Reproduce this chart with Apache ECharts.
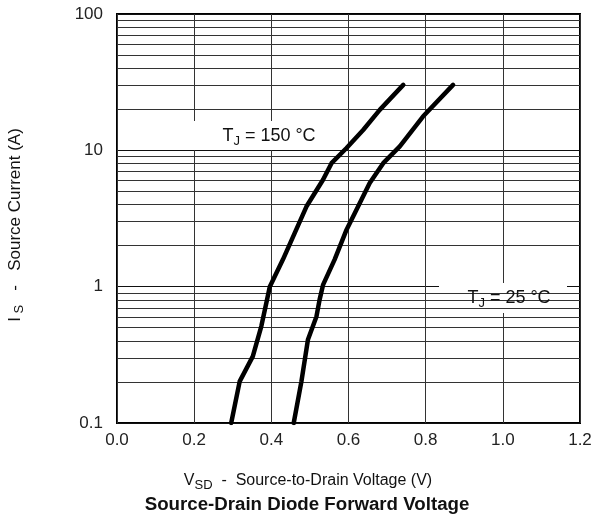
<!DOCTYPE html>
<html>
<head>
<meta charset="utf-8">
<script src="https://cdn.jsdelivr.net/npm/echarts@6/dist/echarts.min.js"></script>
<style>
  html, body { margin: 0; padding: 0; background: #fff; }
  #chart { width: 597px; height: 517px; }
</style>
</head>
<body>
<div id="chart"></div>
<script>
// Forward voltage (V) vs source current (A), TJ = 150 °C
const vsd150 = [0.296, 0.318, 0.352, 0.374, 0.387, 0.396, 0.430, 0.491, 0.534, 0.556, 0.595, 0.638, 0.681, 0.742];
const is150  = [0.1,   0.202, 0.308, 0.512, 0.76,  1.0,   1.58,  3.87,  6.08,  8.05,  10.4,  14.1,  19.8,  30.2];
// Forward voltage (V) vs source current (A), TJ = 25 °C
const vsd25 = [0.458, 0.478, 0.495, 0.517, 0.525, 0.534, 0.564, 0.595, 0.655, 0.690, 0.733, 0.793, 0.871];
const is25  = [0.1,   0.202, 0.41,  0.605, 0.80,  1.03,  1.58,  2.62,  5.75,  8.05,  10.7,  17.7,  30.2];

// Axis ranges and tick labels
const xMin = 0, xMax = 1.2, xStep = 0.2;
const yMin = 0.1, yMax = 100;
const xTickLabels = ['0.0', '0.2', '0.4', '0.6', '0.8', '1.0', '1.2'];
const yTickLabels = ['0.1', '1', '10', '100'];
// Intermediate log grid lines (2..9 in each decade)
const yMinorLines = [0.2, 0.3, 0.4, 0.5, 0.6, 0.7, 0.8, 0.9,
                     2, 3, 4, 5, 6, 7, 8, 9,
                     20, 30, 40, 50, 60, 70, 80, 90];

const FONT = '"Liberation Sans", Arial, Helvetica, sans-serif';
const chart = echarts.init(document.getElementById('chart'), null, { renderer: 'canvas' });

function pairs(xs, ys) { return xs.map((x, i) => [x, ys[i]]); }

function subText(x, y, main1, sub, main2, size, subSize, subDrop, extra) {
  return Object.assign({
    type: 'text', z: 6, x: x, y: y,
    style: {
      text: '{m|' + main1 + '}{s|' + sub + '}{m|' + main2 + '}',
      align: 'center', verticalAlign: 'middle',
      rich: {
        m: { fontFamily: FONT, fontSize: size, fill: '#111' },
        s: { fontFamily: FONT, fontSize: subSize, fill: '#111', padding: [subDrop, 0, 0, 0] }
      }
    }
  }, extra || {});
}

chart.setOption({
  animation: false,
  backgroundColor: '#fff',
  grid: {
    left: 117, top: 14, width: 463, height: 409,
    show: true, borderColor: '#000', borderWidth: 2, backgroundColor: 'transparent'
  },
  xAxis: {
    type: 'value', min: xMin, max: xMax, interval: xStep,
    axisLine: { show: false }, axisTick: { show: false },
    splitLine: { show: true, lineStyle: { color: '#333', width: 1 } },
    axisLabel: {
      margin: 9, fontFamily: FONT, fontSize: 17, color: '#222',
      formatter: v => xTickLabels[Math.round((v - xMin) / xStep)]
    }
  },
  yAxis: {
    type: 'log', logBase: 10, min: yMin, max: yMax,
    axisLine: { show: false }, axisTick: { show: false },
    splitLine: { show: true, lineStyle: { color: '#111', width: 1 } },
    axisLabel: {
      margin: 14, fontFamily: FONT, fontSize: 17, color: '#222',
      formatter: v => yTickLabels[Math.round(Math.log10(v / yMin))]
    }
  },
  graphic: [
    { type: 'rect', z: 5, shape: { x: 193, y: 121, width: 150, height: 29 }, style: { fill: '#fff' } },
    subText(269, 136, 'T', 'J', ' = 150 °C', 18, 13, 10),
    { type: 'rect', z: 5, shape: { x: 439, y: 283, width: 128, height: 30 }, style: { fill: '#fff' } },
    subText(509, 298, 'T', 'J', ' = 25 °C', 18, 13, 10),
    subText(308, 481, 'V', 'SD', '  -  Source-to-Drain Voltage (V)', 16, 13, 9),
    {
      type: 'text', z: 6, x: 307, y: 505,
      style: {
        text: 'Source-Drain Diode Forward Voltage', align: 'center', verticalAlign: 'middle',
        font: 'bold 18.7px ' + FONT, fill: '#111'
      }
    },
    subText(15, 225, 'I', ' S', '   -   Source Current (A)', 17, 13, 9, { rotation: Math.PI / 2 })
  ],
  series: [
    {
      type: 'line', z: 1, data: [], silent: true,
      markLine: {
        silent: true, symbol: 'none', animation: false, label: { show: false },
        lineStyle: { color: '#333', width: 1, type: 'solid' },
        data: yMinorLines.map(v => ({ yAxis: v }))
      }
    },
    {
      type: 'line', z: 10, data: pairs(vsd150, is150), showSymbol: false, symbol: 'none',
      lineStyle: { color: '#000', width: 4.5, cap: 'round', join: 'round' }
    },
    {
      type: 'line', z: 10, data: pairs(vsd25, is25), showSymbol: false, symbol: 'none',
      lineStyle: { color: '#000', width: 4.5, cap: 'round', join: 'round' }
    }
  ]
});
</script>
</body>
</html>
